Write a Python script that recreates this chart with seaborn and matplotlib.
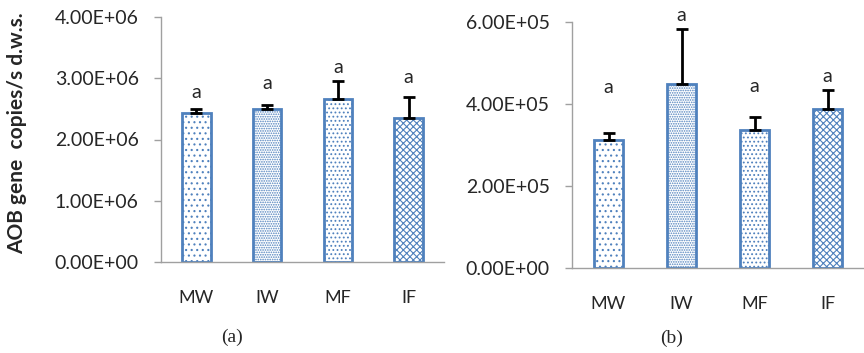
import numpy as np
import matplotlib
matplotlib.use('Agg')
import matplotlib.pyplot as plt
import seaborn as sns

# datos
grupos = ['MW', 'IW', 'MF', 'IF']
aob_a = [2.43e6, 2.50e6, 2.66e6, 2.35e6]
err_a = [0.07e6, 0.07e6, 0.30e6, 0.34e6]
letras_a = ['a', 'a', 'a', 'a']
letra_y_a = [2.76e6, 2.92e6, 3.17e6, 3.02e6]

aob_b = [3.13e5, 4.50e5, 3.38e5, 3.88e5]
err_b = [0.18e5, 1.35e5, 0.32e5, 0.47e5]
letras_b = ['a', 'a', 'a', 'a']
letra_y_b = [4.40e5, 6.16e5, 4.43e5, 4.67e5]

tramas = ['...', '.......', '....', 'xxxxx']
azul = '#4f81bd'
gris = '#a0a0a0'

sns.set_style('white')
plt.rcParams['font.family'] = ['Lato', 'DejaVu Sans']
plt.rcParams['hatch.color'] = azul
plt.rcParams['hatch.linewidth'] = 0.8

fig = plt.figure(figsize=(8.64, 3.53), dpi=100)
ax1 = fig.add_axes([161/864, 91/353, 283/864, 245/353])
ax2 = fig.add_axes([572/864, 85/353, 292/864, 245.6/353])


def panel(ax, vals, errs, letras, letra_y, ymax, paso, fmt):
    sns.barplot(x=grupos, y=vals, ax=ax, color='white', edgecolor=azul,
                linewidth=2, width=0.4, saturation=1)
    for p, h in zip(ax.patches, tramas):
        p.set_hatch(h)
        p.set_facecolor('white')
        p.set_edgecolor(azul)
    x = np.arange(len(grupos))
    # solo la mitad superior de la barra de error
    ax.errorbar(x, vals, yerr=[np.zeros(len(errs)), errs], fmt='none',
                ecolor='black', elinewidth=2, capsize=4, capthick=2)
    for xi, t, yy in zip(x, letras, letra_y):
        ax.text(xi, yy, t, ha='center', va='center', fontsize=14, clip_on=False)
    ax.set_xlim(-0.5, len(grupos) - 0.5)
    ax.set_ylim(0, ymax)
    ax.set_yticks(np.arange(0, ymax + 1, paso))
    ax.set_yticklabels([fmt(v) for v in np.arange(0, ymax + 1, paso)], fontsize=14)
    ax.set_xticks(x)
    ax.set_xticklabels(grupos, fontsize=13)
    ax.set_xticks(np.arange(-0.5, len(grupos)), minor=True)
    ax.tick_params(axis='x', which='major', length=0, pad=20)
    ax.tick_params(axis='x', which='minor', length=5, width=1, color=gris, direction='out')
    ax.tick_params(axis='y', length=5, width=1, color=gris, direction='out', pad=11, left=True)
    for s in ['top', 'right']:
        ax.spines[s].set_visible(False)
    for s in ['left', 'bottom']:
        ax.spines[s].set_color(gris)
        ax.spines[s].set_linewidth(1)
    ax.set_xlabel('')


def sci(v):
    if v == 0:
        return '0.00E+00'
    e = int(np.floor(np.log10(v)))
    return f'{v / 10**e:.2f}E+{e:02d}'


panel(ax1, aob_a, err_a, letras_a, letra_y_a, 4e6, 1e6, sci)
panel(ax2, aob_b, err_b, letras_b, letra_y_b, 6e5, 2e5, sci)

ax1.set_ylabel('AOB gene  copies/s d.w.s.', fontsize=15, fontweight='bold')
ax1.yaxis.set_label_coords(-0.473, 0.527)

fig.text(232/864, 1 - 337/353, '(a)', ha='center', va='center', fontsize=14,
         family=['Liberation Serif', 'DejaVu Serif'])
fig.text(672/864, 1 - 338/353, '(b)', ha='center', va='center', fontsize=14,
         family=['Liberation Serif', 'DejaVu Serif'])

fig.savefig('out.png', dpi=100)
